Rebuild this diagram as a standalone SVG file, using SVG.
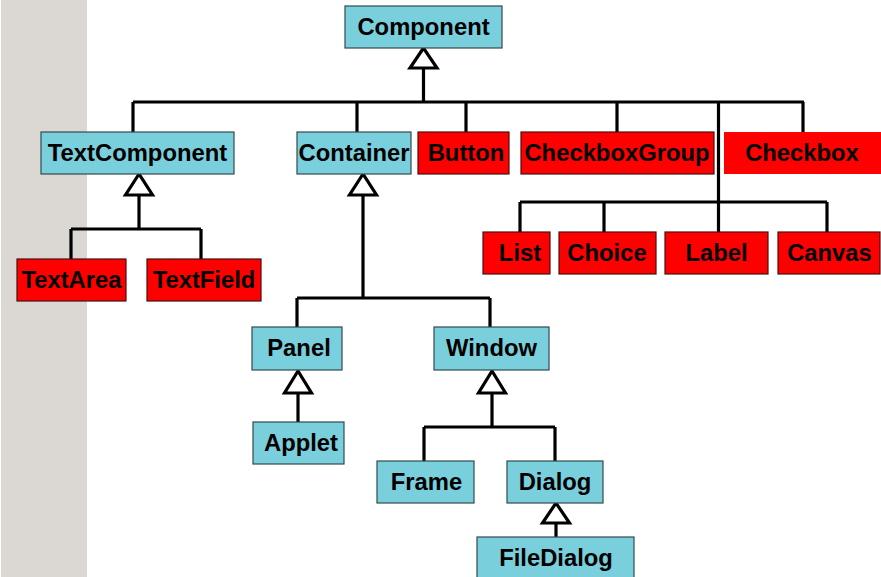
<svg xmlns="http://www.w3.org/2000/svg" width="881" height="577" viewBox="0 0 881 577">
  <style>
    .cls { fill: #79cfdb; stroke: #34494d; stroke-width: 1.2; }
    .awt { fill: #ff0000; stroke: #4a1010; stroke-width: 1.2; }
    .bare { fill: #ff0000; stroke: none; }
    text { font-family: "Liberation Sans", Arial, sans-serif; font-weight: bold; font-size: 23.8px; fill: #000; text-anchor: middle; }
    .wire { fill: none; stroke: #000; stroke-width: 3.2; }
    .head { fill: #fff; stroke: #000; stroke-width: 3.2; stroke-linejoin: miter; }
  </style>
  <rect x="1" y="0" width="86" height="577" fill="#dbd7d3"/>

  <g id="connectors">
    <!-- Component children -->
    <path class="wire" d="M423.5,68 V102 M133,102 H804 M133,102 V132 M357,102 V132 M466,102 V132 M617,102 V132 M803,102 V132 M718.5,102 V232"/>
    <path class="head" d="M423.5,48 L410,68 L437,68 Z"/>
    <!-- lower AWT row under the long stem -->
    <path class="wire" d="M520,202 H827 M520,202 V232 M604,202 V232 M827,202 V232"/>
    <!-- TextComponent children -->
    <path class="wire" d="M139,195 V229 M71,229 H201 M71,229 V259 M201,229 V259"/>
    <path class="head" d="M139,174 L125.5,195 L152.5,195 Z"/>
    <!-- Container children -->
    <path class="wire" d="M363,195 V298 M297,298 H490 M297,298 V327 M490,298 V327"/>
    <path class="head" d="M363,174 L349.5,195 L376.5,195 Z"/>
    <!-- Panel to Applet -->
    <path class="wire" d="M298,393 V422"/>
    <path class="head" d="M298,371 L284.5,393 L311.5,393 Z"/>
    <!-- Window children -->
    <path class="wire" d="M492,393 V427 M424,427 H555 M424,427 V461 M555,427 V461"/>
    <path class="head" d="M492,371 L478.5,393 L505.5,393 Z"/>
    <!-- Dialog to FileDialog -->
    <path class="wire" d="M556,523 V537"/>
    <path class="head" d="M556,503 L542.5,523 L569.5,523 Z"/>
  </g>

  <g id="component"><rect class="cls" x="345" y="6" width="157" height="42"/><text x="423.5" y="35">Component</text></g>

  <g id="textcomponent"><rect class="cls" x="41" y="132" width="193" height="42"/><text x="137.5" y="161">TextComponent</text></g>
  <g id="container"><rect class="cls" x="297" y="132" width="114" height="42"/><text x="354" y="161">Container</text></g>
  <g id="button"><rect class="awt" x="418" y="132" width="91" height="42"/><text x="466" y="161">Button</text></g>
  <g id="checkboxgroup"><rect class="awt" x="521" y="132" width="193" height="42"/><text x="617" y="161">CheckboxGroup</text></g>
  <g id="checkbox"><rect class="bare" x="724" y="132" width="160" height="42"/><text x="802" y="161">Checkbox</text></g>

  <g id="textarea"><rect class="awt" x="17" y="259" width="109" height="42"/><text x="71.5" y="288">TextArea</text></g>
  <g id="textfield"><rect class="awt" x="147" y="259" width="114" height="42"/><text x="204" y="288">TextField</text></g>

  <g id="list"><rect class="awt" x="483" y="232" width="67" height="42"/><text x="520" y="261">List</text></g>
  <g id="choice"><rect class="awt" x="559" y="232" width="97" height="42"/><text x="607" y="261">Choice</text></g>
  <g id="label"><rect class="awt" x="665" y="232" width="103" height="42"/><text x="716.5" y="261">Label</text></g>
  <g id="canvas"><rect class="awt" x="778" y="232" width="102" height="42"/><text x="829.5" y="261">Canvas</text></g>

  <g id="panel"><rect class="cls" x="252" y="327" width="90" height="43"/><text x="299" y="356">Panel</text></g>
  <g id="window"><rect class="cls" x="434" y="327" width="115" height="43"/><text x="491.5" y="356">Window</text></g>
  <g id="applet"><rect class="cls" x="253" y="422" width="91" height="42"/><text x="301" y="451">Applet</text></g>
  <g id="frame"><rect class="cls" x="377" y="461" width="97" height="42"/><text x="426.5" y="490">Frame</text></g>
  <g id="dialog"><rect class="cls" x="507" y="461" width="96" height="42"/><text x="555" y="490">Dialog</text></g>
  <g id="filedialog"><rect class="cls" x="477" y="537" width="157" height="45"/><text x="556" y="566">FileDialog</text></g>
</svg>
